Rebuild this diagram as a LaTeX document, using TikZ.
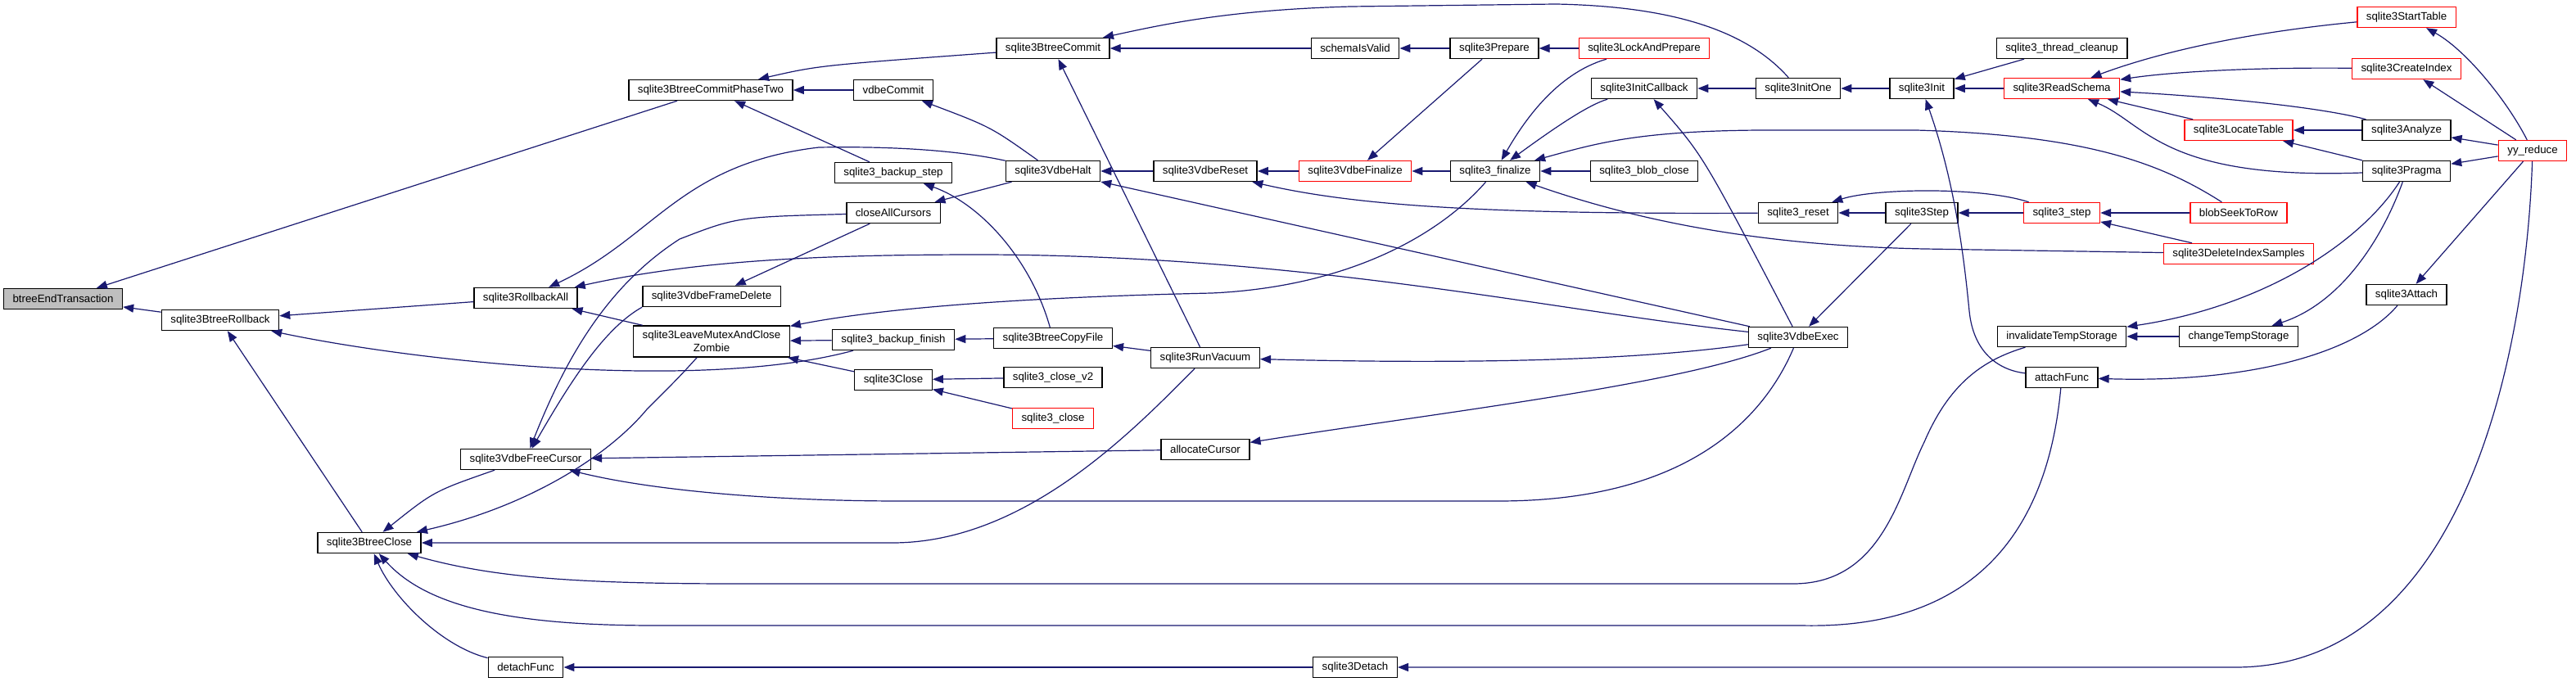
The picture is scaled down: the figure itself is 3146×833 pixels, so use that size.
\documentclass[tikz,border=0pt]{standalone}
\usepackage{fontspec}
\setmainfont{Liberation Sans}
\usetikzlibrary{arrows.meta}

\definecolor{edgeblue}{HTML}{191970}
\definecolor{rootgray}{HTML}{BFBFBF}

\tikzset{
  func/.style={draw=black,line width=0.7pt,fill=white,inner xsep=5.5pt,inner ysep=0pt,
    minimum height=12.5pt,font=\fontsize{6.65}{8}\selectfont},
  funcred/.style={func,draw=red},
  funcroot/.style={func,fill=rootgray},
  call/.style={{Triangle[length=6.5pt,width=5pt]}-,draw=edgeblue,line width=0.6pt}
}

\begin{document}
\begin{tikzpicture}[x=0.5pt,y=-0.5pt]
\useasboundingbox (0,0) rectangle (3146,833);

% Fonction de depart
\node[funcroot]
(endtrans)
at (77,365)
{btreeEndTransaction};

% Colonne 1
\node[func]
(btreerollback)
at (269,391)
{sqlite3BtreeRollback};

\node[func]
(btreeclose)
at (451,663)
{sqlite3BtreeClose};

% Colonne 2
\node[func]
(rollbackall)
at (642,364)
{sqlite3RollbackAll};

\node[func]
(freecursor)
at (642,561)
{sqlite3VdbeFreeCursor};

\node[func]
(detachfunc)
at (642,815)
{detachFunc};

% Colonne 3
\node[func]
(phasetwo)
at (868,110)
{sqlite3BtreeCommitPhaseTwo};

\node[func]
(framedelete)
at (869,362)
{sqlite3VdbeFrameDelete};

\node[func,align=center,minimum height=19pt]
(closezombie)
at (869,417)
{sqlite3LeaveMutexAndClose\\Zombie};

% Colonne 4
\node[func]
(vdbecommit)
at (1091,110)
{vdbeCommit};

\node[func]
(backupstep)
at (1091,211)
{sqlite3\_backup\_step};

\node[func]
(closeall)
at (1091,260)
{closeAllCursors};

\node[func]
(backupfinish)
at (1091,415)
{sqlite3\_backup\_finish};

\node[func]
(dbclose)
at (1091,464)
{sqlite3Close};

% Colonne 5
\node[func]
(btreecommit)
at (1286,59)
{sqlite3BtreeCommit};

\node[func]
(vdbehalt)
at (1286,209)
{sqlite3VdbeHalt};

\node[func]
(copyfile)
at (1286,413)
{sqlite3BtreeCopyFile};

\node[func]
(closevtwo)
at (1286,461)
{sqlite3\_close\_v2};

\node[funcred]
(closeapi)
at (1286,511)
{sqlite3\_close};

% Colonne 6
\node[func]
(vdbereset)
at (1472,209)
{sqlite3VdbeReset};

\node[func]
(runvacuum)
at (1472,437)
{sqlite3RunVacuum};

\node[func]
(alloccursor)
at (1472,549)
{allocateCursor};

% Colonne 7
\node[func]
(schemavalid)
at (1655,59)
{schemaIsValid};

\node[funcred]
(vdbefinalize)
at (1655,209)
{sqlite3VdbeFinalize};

\node[func]
(detach)
at (1655,815)
{sqlite3Detach};

% Colonne 8
\node[func]
(prepare)
at (1825,59)
{sqlite3Prepare};

\node[func]
(finalizeapi)
at (1826,209)
{sqlite3\_finalize};

% Colonne 9
\node[funcred]
(lockprepare)
at (2008,59)
{sqlite3LockAndPrepare};

\node[func]
(initcallback)
at (2008,108)
{sqlite3InitCallback};

\node[func]
(blobclose)
at (2008,209)
{sqlite3\_blob\_close};

% Colonne 10
\node[func]
(initone)
at (2196,108)
{sqlite3InitOne};

\node[func]
(resetapi)
at (2196,260)
{sqlite3\_reset};

\node[func]
(vdbeexec)
at (2196,412)
{sqlite3VdbeExec};

% Colonne 11
\node[func]
(init)
at (2347,108)
{sqlite3Init};

\node[func]
(sqlstep)
at (2347,260)
{sqlite3Step};

% Colonne 12
\node[func]
(threadcleanup)
at (2518,59)
{sqlite3\_thread\_cleanup};

\node[funcred]
(readschema)
at (2518,108)
{sqlite3ReadSchema};

\node[funcred]
(stepapi)
at (2518,260)
{sqlite3\_step};

\node[func]
(invtemp)
at (2518,411)
{invalidateTempStorage};

\node[func]
(attachfunc)
at (2518,461)
{attachFunc};

% Colonne 13
\node[funcred]
(locatetable)
at (2734,159)
{sqlite3LocateTable};

\node[funcred]
(seektorow)
at (2734,260)
{blobSeekToRow};

\node[funcred]
(delsamples)
at (2734,310)
{sqlite3DeleteIndexSamples};

\node[func]
(changetemp)
at (2734,411)
{changeTempStorage};

% Colonne 14
\node[funcred]
(starttable)
at (2939,21)
{sqlite3StartTable};

\node[funcred]
(createindex)
at (2939,84)
{sqlite3CreateIndex};

\node[func]
(analyze)
at (2939,159)
{sqlite3Analyze};

\node[func]
(pragma)
at (2939,209)
{sqlite3Pragma};

\node[func]
(attach)
at (2939,360)
{sqlite3Attach};

% Colonne 15
\node[funcred]
(yyreduce)
at (3093,184)
{yy\_reduce};

% Appels
\draw[call] (endtrans) -- (phasetwo);
\draw[call] (endtrans) -- (btreerollback);
\draw[call] (btreerollback) -- (rollbackall);
\draw[call] (btreerollback) -- (btreeclose);
\draw[call] (btreerollback) .. controls (500,440) and (850,480) .. (backupfinish);
\draw[call] (rollbackall) .. controls (800,290) and (830,200) .. (1000,180) .. controls (1120,178) and (1190,188) .. (vdbehalt);
\draw[call] (rollbackall) .. controls (850,318) and (1000,311) .. (1200,311) .. controls (1600,312) and (1900,380) .. (vdbeexec);
\draw[call] (rollbackall) -- (closezombie);
\draw[call] (btreeclose) .. controls (530,600) .. (freecursor);
\draw[call] (btreeclose) .. controls (640,620) and (740,560) .. (790,500) .. controls (830,460) .. (closezombie);
\draw[call] (btreeclose) -- (1090,663) .. controls (1250,663) and (1380,530) .. (runvacuum);
\draw[call] (btreeclose) .. controls (600,705) and (700,713) .. (900,713) -- (2190,713) .. controls (2300,713) and (2320,600) .. (2350,540) .. controls (2380,470) and (2420,440) .. (invtemp);
\draw[call] (btreeclose) .. controls (520,740) and (620,764) .. (800,764) -- (2200,764) .. controls (2450,770) and (2505,600) .. (attachfunc);
\draw[call] (btreeclose) .. controls (480,730) and (540,790) .. (detachfunc);
\draw[call] (freecursor) .. controls (690,440) and (740,350) .. (830,292) .. controls (900,265) .. (closeall);
\draw[call] (freecursor) .. controls (700,460) and (740,400) .. (framedelete.south west);
\draw[call] (freecursor) -- (alloccursor);
\draw[call] (freecursor) .. controls (800,600) and (950,612) .. (1100,612) -- (1830,612) .. controls (2050,612) and (2150,520) .. (vdbeexec);
\draw[call] (detachfunc) -- (detach);
\draw[call] (phasetwo) .. controls (1000,80) .. (btreecommit);
\draw[call] (phasetwo) -- (vdbecommit);
\draw[call] (phasetwo) -- (backupstep);
\draw[call] (framedelete) -- (closeall);
\draw[call] (closezombie) -- (backupfinish);
\draw[call] (closezombie) -- (dbclose);
\draw[call] (closezombie) .. controls (1100,372) and (1300,362) .. (1480,358) .. controls (1650,350) and (1760,285) .. (finalizeapi);
\draw[call] (vdbecommit) .. controls (1210,155) .. (vdbehalt);
\draw[call] (backupstep) .. controls (1200,250) and (1260,320) .. (copyfile);
\draw[call] (closeall) -- (vdbehalt);
\draw[call] (backupfinish) -- (copyfile);
\draw[call] (dbclose) -- (closevtwo);
\draw[call] (dbclose) -- (closeapi);
\draw[call] (btreecommit) .. controls (1420,30) and (1500,12) .. (1650,8) -- (1900,5) .. controls (2060,8) and (2140,45) .. (initone);
\draw[call] (btreecommit) -- (schemavalid);
\draw[call] (btreecommit) -- (runvacuum);
\draw[call] (vdbehalt) -- (vdbereset);
\draw[call] (vdbehalt) -- (vdbeexec);
\draw[call] (copyfile) -- (runvacuum);
\draw[call] (vdbereset) -- (vdbefinalize);
\draw[call] (vdbereset) .. controls (1650,250) and (1800,262) .. (resetapi);
\draw[call] (runvacuum) .. controls (1800,445) and (2000,440) .. (vdbeexec);
\draw[call] (alloccursor) .. controls (1750,505) and (2050,470) .. (vdbeexec);
\draw[call] (schemavalid) -- (prepare);
\draw[call] (vdbefinalize) -- (finalizeapi);
\draw[call] (vdbefinalize) -- (prepare);
\draw[call] (detach) -- (2730,815) .. controls (3010,815) and (3085,430) .. (yyreduce);
\draw[call] (prepare) -- (lockprepare);
\draw[call] (finalizeapi) .. controls (1860,150) and (1900,90) .. (lockprepare);
\draw[call] (finalizeapi) .. controls (1900,155) and (1940,128) .. (initcallback);
\draw[call] (finalizeapi) -- (blobclose);
\draw[call] (finalizeapi) .. controls (1950,175) and (2000,160) .. (2150,159) -- (2340,159) .. controls (2550,165) and (2640,200) .. (seektorow);
\draw[call] (finalizeapi) .. controls (2000,270) and (2150,300) .. (2350,304) -- (delsamples);
\draw[call] (initcallback) -- (initone);
\draw[call] (initcallback) .. controls (2080,190) .. (vdbeexec);
\draw[call] (initone) -- (init);
\draw[call] (resetapi) -- (sqlstep);
\draw[call] (resetapi) .. controls (2290,230) and (2420,228) .. (stepapi);
\draw[call] (vdbeexec) -- (sqlstep);
\draw[call] (init) -- (threadcleanup);
\draw[call] (init) -- (readschema);
\draw[call] (init) .. controls (2390,230) and (2400,330) .. (2405,380) .. controls (2410,430) and (2440,452) .. (attachfunc);
\draw[call] (sqlstep) -- (stepapi);
\draw[call] (readschema) .. controls (2620,70) and (2720,42) .. (starttable);
\draw[call] (readschema) .. controls (2650,88) and (2750,82) .. (createindex);
\draw[call] (readschema) .. controls (2700,118) and (2830,130) .. (analyze);
\draw[call] (readschema) -- (locatetable);
\draw[call] (readschema) .. controls (2620,150) and (2640,220) .. (pragma);
\draw[call] (stepapi) -- (seektorow);
\draw[call] (stepapi) -- (delsamples);
\draw[call] (invtemp) -- (changetemp);
\draw[call] (invtemp) .. controls (2760,375) and (2880,300) .. (pragma);
\draw[call] (attachfunc) .. controls (2750,468) and (2880,430) .. (attach);
\draw[call] (locatetable) -- (analyze);
\draw[call] (locatetable) -- (pragma);
\draw[call] (changetemp) .. controls (2860,370) and (2910,290) .. (pragma);
\draw[call] (starttable) .. controls (3010,60) and (3060,120) .. (yyreduce);
\draw[call] (createindex) -- (yyreduce);
\draw[call] (analyze) -- (yyreduce);
\draw[call] (pragma) -- (yyreduce);
\draw[call] (attach) -- (yyreduce);

\end{tikzpicture}
\end{document}
